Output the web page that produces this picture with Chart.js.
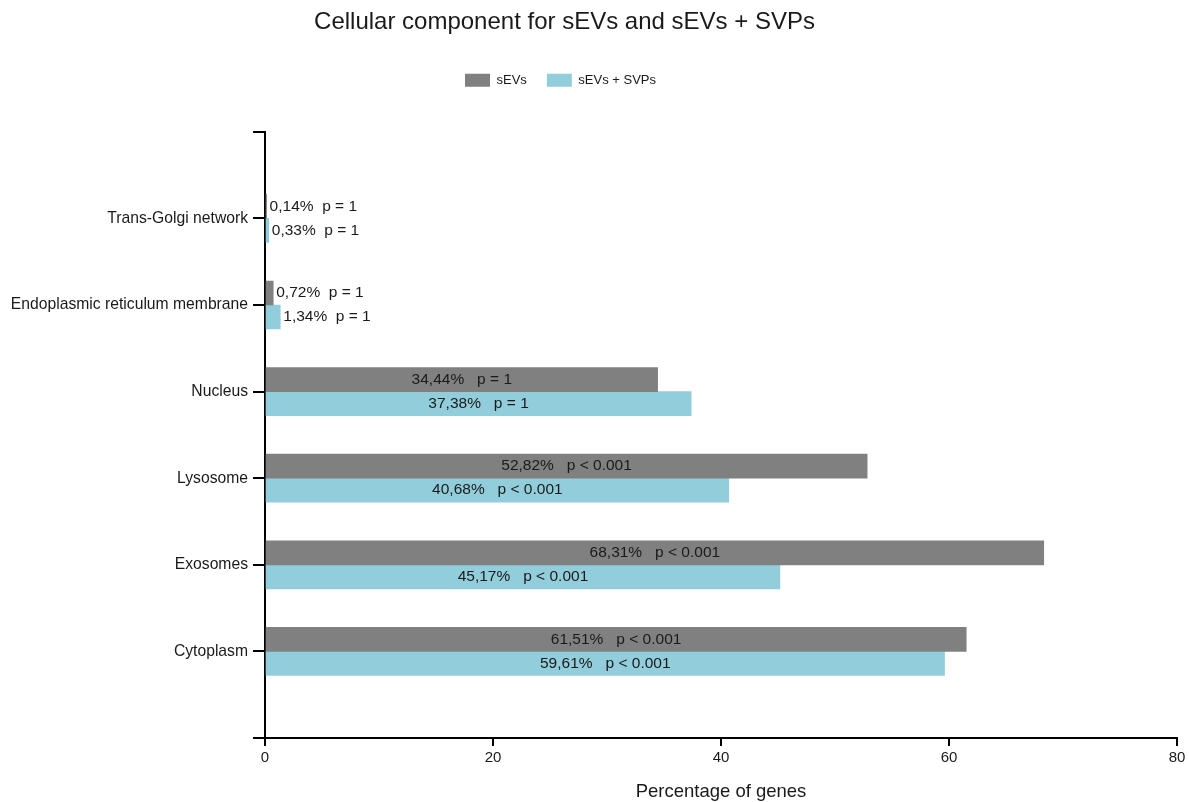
<!DOCTYPE html>
<html>
<head>
<meta charset="utf-8">
<script src="https://cdn.jsdelivr.net/npm/chart.js@4/dist/chart.umd.min.js"></script>
<style>
  body { margin: 0; background: white; }
  canvas { display: block; }
</style>
</head>
<body>
<canvas id="resultChart" width="1189" height="802"></canvas>
<script>
// values (top to bottom)
var categories = ["Trans-Golgi network", "Endoplasmic reticulum membrane", "Nucleus", "Lysosome", "Exosomes", "Cytoplasm"]
var sEVsValues = [0.14, 0.72, 34.44, 52.82, 68.31, 61.51]
var sEVsSVPsValues = [0.33, 1.34, 37.38, 40.68, 45.17, 59.61]
var sEVsP = ["p = 1", "p = 1", "p = 1", "p < 0.001", "p < 0.001", "p < 0.001"]
var sEVsSVPsP = ["p = 1", "p = 1", "p = 1", "p < 0.001", "p < 0.001", "p < 0.001"]
var xTicks = [0, 20, 40, 60, 80]

// empty slot above and below so the axis runs a bit past the bars
var yLabels = [""].concat(categories, [""])
function pad(arr){ return [null].concat(arr, [null]) }

Chart.defaults.font.family = "'Liberation Sans', Arial, sans-serif"
Chart.defaults.color = "#1a1a1a"

var barLabels = {
    id: 'barLabels',
    afterDatasetsDraw(chart) {
        const ctx = chart.ctx
        ctx.save()
        ctx.font = "15.5px 'Liberation Sans', Arial, sans-serif"
        ctx.fillStyle = "#1a1a1a"
        ctx.textBaseline = "middle"
        chart.data.datasets.forEach((ds, di) => {
            const meta = chart.getDatasetMeta(di)
            meta.data.forEach((bar, i) => {
                const v = ds.data[i]
                if (v == null) return
                const txt = v.toFixed(2).replace(".", ",") + "%" + (v < 5 ? "  " : "   ") + ds.pLabels[i]
                if (v < 5) {
                    ctx.textAlign = "left"
                    ctx.fillText(txt, bar.x + 3, bar.y)
                } else {
                    ctx.textAlign = "center"
                    ctx.fillText(txt, (bar.base + bar.x) / 2, bar.y)
                }
            })
        })
        ctx.restore()
    }
}

// title and legend sit a little left of the canvas centre in the figure,
// and there is a gap under the legend
var headerTweaks = {
    id: 'headerTweaks',
    beforeInit(chart) {
        const fit = chart.legend.fit
        chart.legend.fit = function(){
            fit.bind(chart.legend)()
            this.height += 35
        }
    },
    afterLayout(chart) {
        chart.titleBlock.left -= 24
        chart.titleBlock.right -= 24
        chart.legend.left -= 28
        chart.legend.right -= 28
    }
}

const ctx = document.getElementById("resultChart").getContext('2d')
var chart = new Chart(ctx, {
    type: "bar",
    data: {
        labels: yLabels,
        datasets: [{
            label: "sEVs",
            data: pad(sEVsValues),
            pLabels: pad(sEVsP),
            backgroundColor: "#808080",
            barThickness: 24
        }, {
            label: "sEVs + SVPs",
            data: pad(sEVsSVPsValues),
            pLabels: pad(sEVsSVPsP),
            backgroundColor: "#92cddb",
            barThickness: 24
        }]
    },
    options: {
        indexAxis: 'y',
        responsive: false,
        animation: false,
        layout: { padding: { left: 0, right: 12, top: 0, bottom: 0 } },
        scales: {
            x: {
                type: 'linear',
                min: 0,
                max: 80,
                afterBuildTicks(scale) { scale.ticks = xTicks.map(v => ({ value: v })) },
                afterFit(scale) { scale.height = 64 },
                ticks: { font: { size: 15 }, padding: 3, color: "#1a1a1a" },
                grid: { drawOnChartArea: false, color: "black", lineWidth: 2, tickLength: 8 },
                border: { color: "black", width: 2 },
                title: { display: true, text: "Percentage of genes", font: { size: 18.5 }, color: "#1a1a1a", padding: { top: 0, bottom: -1 } }
            },
            y: {
                type: 'category',
                offset: false,
                afterFit(scale) { scale.width = 265 },
                ticks: { font: { size: 15.7 }, padding: 5, color: "#1a1a1a", autoSkip: false },
                grid: { drawOnChartArea: false, color: "black", lineWidth: 2, tickLength: 12, offset: false },
                border: { color: "black", width: 2 }
            }
        },
        plugins: {
            title: {
                display: true,
                text: "Cellular component for sEVs and sEVs + SVPs",
                font: { size: 24, weight: 'normal' },
                color: "#1a1a1a",
                padding: { top: 8, bottom: 17 }
            },
            legend: {
                position: 'top',
                labels: { boxWidth: 25, boxHeight: 13, font: { size: 13 }, padding: 20, color: "#1a1a1a" }
            },
            tooltip: { enabled: false }
        }
    },
    plugins: [barLabels, headerTweaks]
})
</script>
</body>
</html>
